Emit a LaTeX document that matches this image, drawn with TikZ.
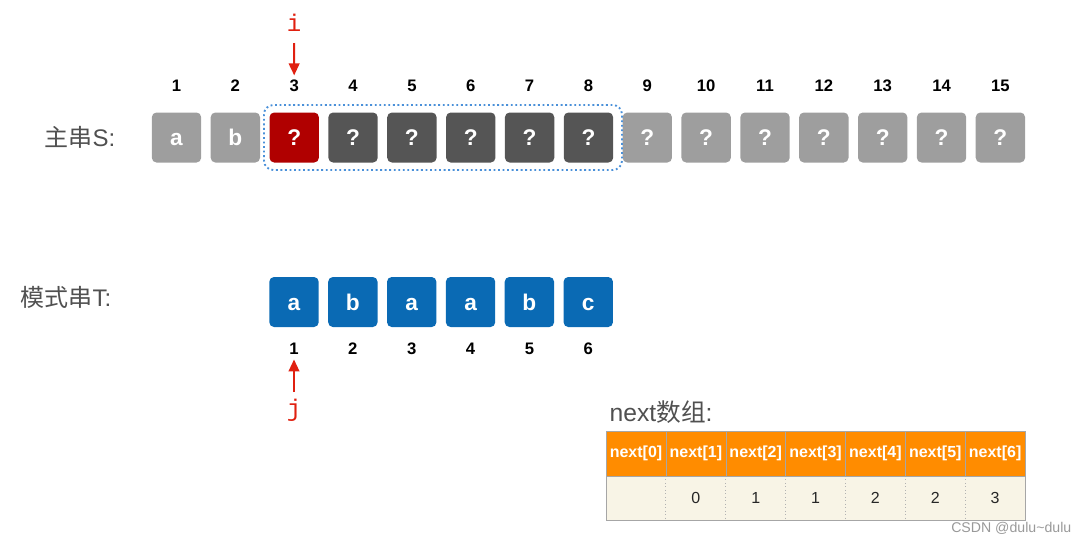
\documentclass[tikz,border=0pt]{standalone}
\usepackage{fontspec}
\usetikzlibrary{arrows.meta}
\setmainfont{Liberation Sans}
\newfontfamily\cjk{Noto Sans CJK SC}
\newfontfamily\mono{Liberation Mono}
\definecolor{lgray}{HTML}{9E9E9E}
\definecolor{dgray}{HTML}{555555}
\definecolor{redbox}{HTML}{B00000}
\definecolor{bluebox}{HTML}{0A6AB4}
\definecolor{dotblue}{HTML}{4A90D9}
\definecolor{arrowred}{HTML}{E02010}
\definecolor{orangehd}{HTML}{FF8C00}
\definecolor{beige}{HTML}{F8F4E6}
\definecolor{labgray}{HTML}{505050}
\begin{document}
\begin{tikzpicture}[x=0.75pt,y=-0.75pt,
  cell/.style={rounded corners=3.5pt,minimum width=37pt,minimum height=37.5pt,inner sep=0pt,text=white,font=\bfseries\fontsize{17}{17}\selectfont,text height=12.5pt,text depth=0pt},
  idx/.style={font=\bfseries\fontsize{12.5}{12.5}\selectfont,text=black},
  lab/.style={font=\fontsize{18}{18}\selectfont,text=labgray,anchor=west},
  ptr/.style={draw=arrowred,line width=1.5pt,-{Triangle[length=9pt,width=8pt]}},
  hd/.style={fill=orangehd,draw=gray!70,minimum width=44.9pt,minimum height=33.7pt,inner sep=0pt,text=white,font=\bfseries\fontsize{12}{12}\selectfont},
  vl/.style={fill=beige,minimum width=44.9pt,minimum height=33pt,inner sep=0pt,text=black!85,font=\fontsize{12}{12}\selectfont}
]
\useasboundingbox (0,0) rectangle (1091,544);
% main string
\node[lab] (labS) at (40,137) {{\cjk 主串}S:};
\foreach \k/\t/\c in {1/a/lgray,2/b/lgray,3/?/redbox,4/?/dgray,5/?/dgray,6/?/dgray,7/?/dgray,8/?/dgray,9/?/lgray,10/?/lgray,11/?/lgray,12/?/lgray,13/?/lgray,14/?/lgray,15/?/lgray}{
  \node[cell,fill=\c] (s\k) at ({176.5+58.85*(\k-1)},137.5) {\t};
  \node[idx] (si\k) at ({176.5+58.85*(\k-1)},86) {\k};
}
\draw[dotblue,line width=1.4pt,dotted,rounded corners=7pt] (264,105) rectangle (622,170);
\node[font=\mono\fontsize{18}{18}\selectfont,text=arrowred] (i) at (294,23) {i};
\coordinate (itop) at (294,43);
\draw[ptr] (itop) -- (si3.north);
% pattern
\node[lab] (labT) at (16,297) {{\cjk 模式串}T:};
\foreach \k/\t in {1/a,2/b,3/a,4/a,5/b,6/c}{
  \node[cell,fill=bluebox] (t\k) at ({294+58.85*(\k-1)},302) {\t};
  \node[idx] (ti\k) at ({294+58.85*(\k-1)},349) {\k};
}
\node[font=\mono\fontsize{18}{18}\selectfont,text=arrowred] (j) at (294,410) {j};
\coordinate (jbot) at (294,392);
\draw[ptr] (jbot) -- (ti1.south);
% next table
\node[font=\fontsize{18.5}{18.5}\selectfont,text=labgray,anchor=west] (nl) at (605,412) {next{\cjk 数组}:};
\foreach \k/\v in {0/,1/0,2/1,3/1,4/2,5/2,6/3}{
  \node[hd] (h\k) at ({636+59.85*\k},453.5) {next[\k]};
  \node[vl] (v\k) at ({636+59.85*\k},498) {\v};
}
\foreach \k in {1,...,6}{
  \draw[gray!60,dotted,line width=0.6pt] ({606+59.85*\k},476) -- ({606+59.85*\k},520);
}
\draw[gray!70,line width=0.6pt] (606,431) rectangle (1025,520);
\draw[gray!70,line width=0.6pt] (606,476) -- (1025,476);
\node[anchor=east,font=\fontsize{10.6}{10.6}\selectfont,text=gray!80] (csdn) at (1076,528) {CSDN @dulu\textasciitilde dulu};
\end{tikzpicture}
\end{document}
